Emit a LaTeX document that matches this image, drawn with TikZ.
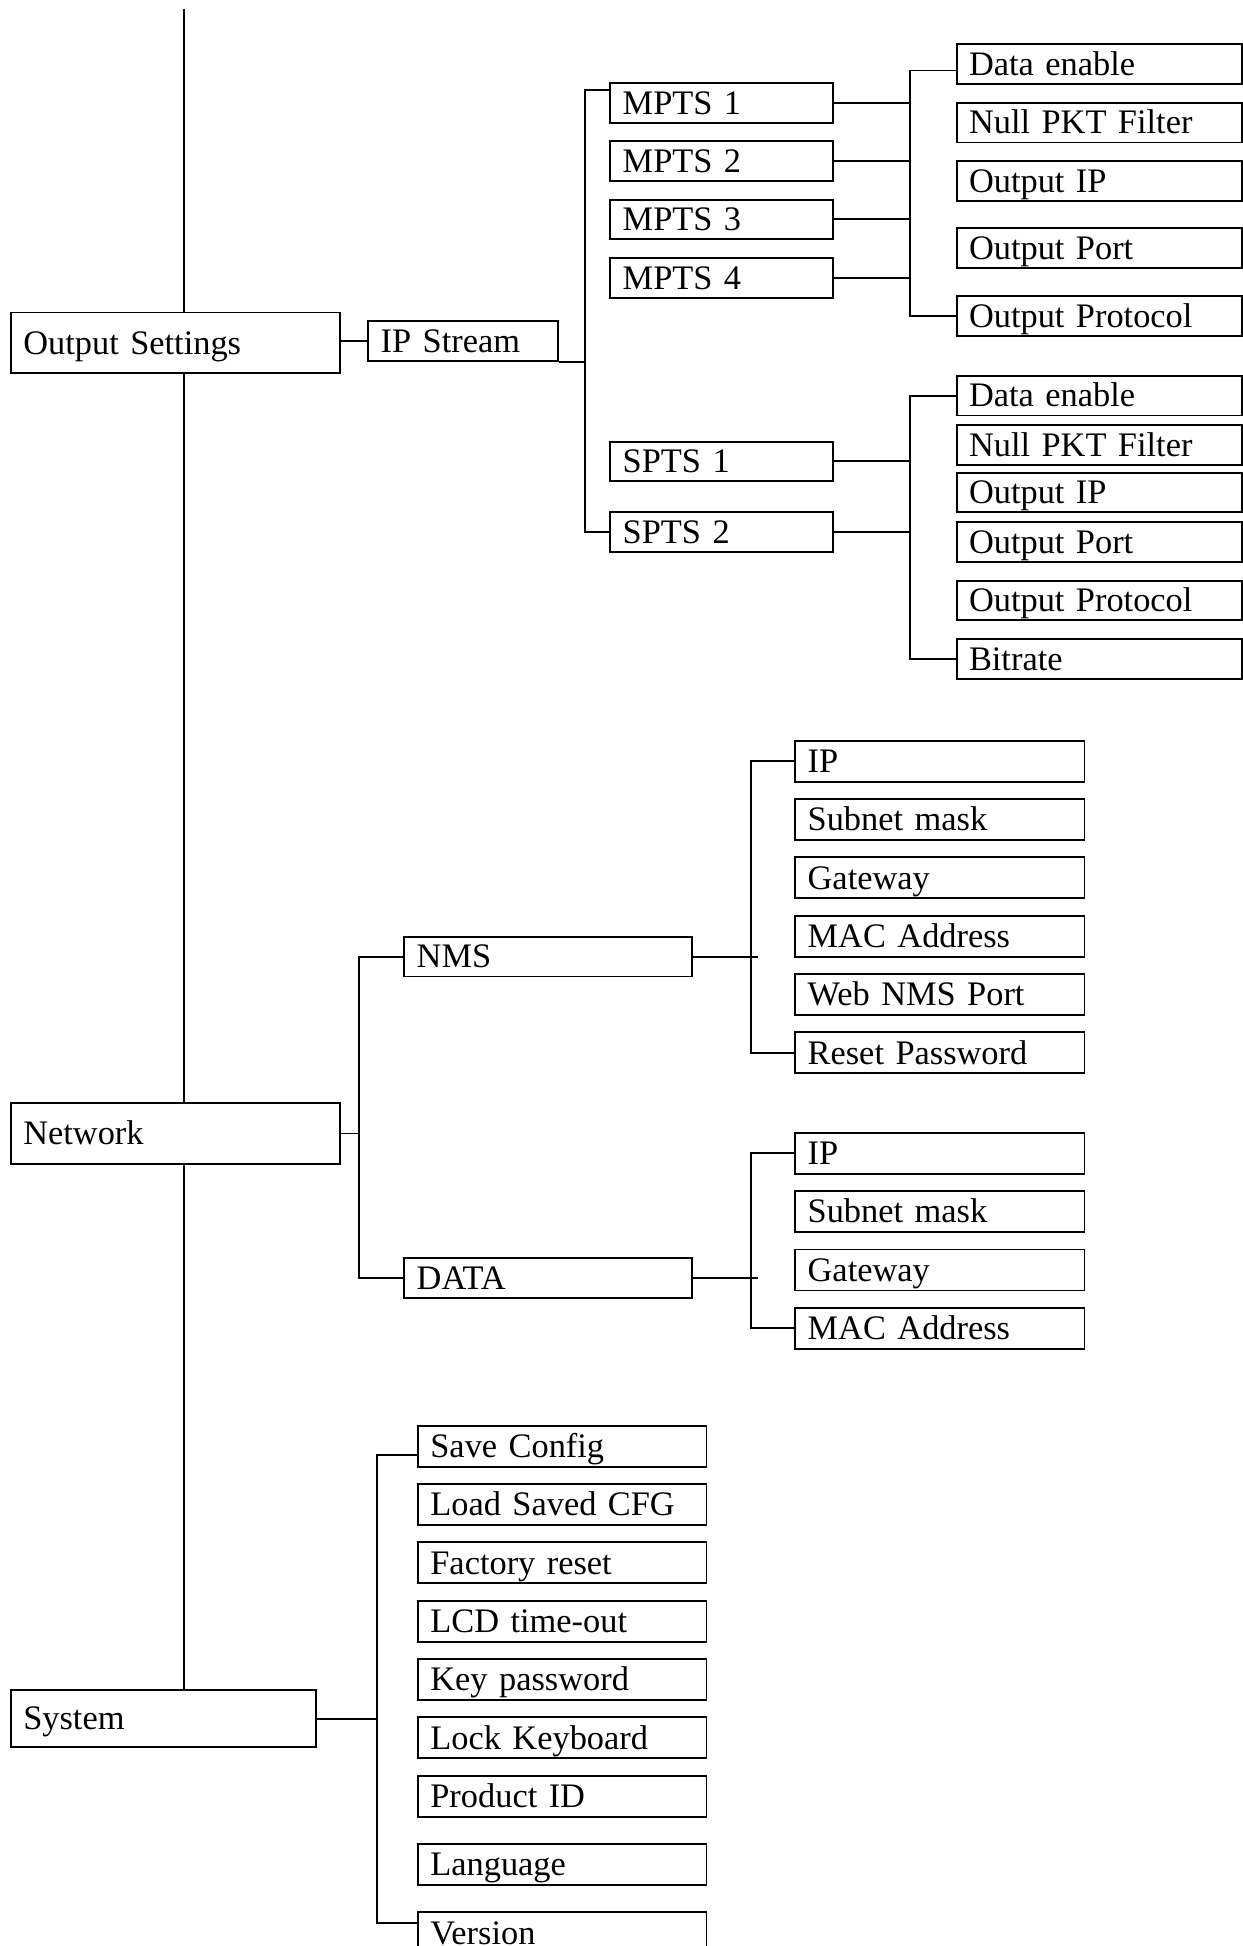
\documentclass[tikz,border=0pt]{standalone}
\usepackage{fontspec}
\setmainfont{Liberation Serif}

\begin{document}
\begin{tikzpicture}[x=0.025cm, y=-0.025cm, line width=1.1pt,
every node/.style = {draw, anchor=north west, align=left, inner xsep=0.25cm, inner ysep=0pt,
                     minimum height=0.8cm, text height=13pt, text depth=0pt,
                     font=\fontsize{19.7}{22}\selectfont},
menu/.style = {text width=#1}]
\useasboundingbox (0,0) rectangle (1001,1568);
% top level
\node[menu=6.125cm, minimum height=1.225cm] (output_settings) at (8,251) {Output Settings};
\node[menu=6.125cm, minimum height=1.225cm] (network) at (8,888) {Network};
\node[menu=5.64cm, minimum height=1.15cm] (system) at (8,1361) {System};
% output settings
\node[menu=3.325cm] (ip_stream) at (296,258) {IP Stream};
\foreach \n/\y in {1/66, 2/113, 3/160, 4/207}
  \node[menu=3.975cm] (mpts\n) at (491,\y) {MPTS \n};
\foreach \n/\y in {1/355, 2/412}
  \node[menu=3.975cm] (spts\n) at (491,\y) {SPTS \n};
\foreach \m/\y/\t in {de/35/Data enable, null/82/Null PKT Filter, ip/129/Output IP,
                      port/183/Output Port, proto/238/Output Protocol}
  \node[menu=5.25cm] (mpts_\m) at (770,\y) {\t};
\foreach \m/\y/\t in {de/302/Data enable, null/342/Null PKT Filter, ip/380/Output IP,
                      port/420/Output Port, proto/467/Output Protocol, rate/514/Bitrate}
  \node[menu=5.25cm] (spts_\m) at (770,\y) {\t};
% network
\node[menu=5.3cm] (nms) at (325,754) {NMS};
\node[menu=5.3cm] (data) at (325,1013) {DATA};
\foreach \m/\y/\t in {ip/596/IP, mask/643/Subnet mask, gw/690/Gateway, mac/737/MAC Address,
                      web/784/Web NMS Port, pwd/831/Reset Password}
  \node[menu=5.325cm, minimum height=0.825cm] (nms_\m) at (640,\y) {\t};
\foreach \m/\y/\t in {ip/912/IP, mask/959/Subnet mask, gw/1006/Gateway, mac/1053/MAC Address}
  \node[menu=5.325cm, minimum height=0.825cm] (data_\m) at (640,\y) {\t};
% system
\foreach \m/\y/\t in {save/1148/Save Config, load/1195/Load Saved CFG, reset/1242/Factory reset,
                      lcd/1289/LCD time-out, key/1336/Key password, lock/1383/Lock Keyboard,
                      id/1430/Product ID, lang/1485/Language, ver/1540/Version}
  \node[menu=5.31cm, minimum height=0.825cm] (sys_\m) at (336,\y) {\t};

\coordinate (trunk) at (148,7);
\coordinate (ts_bus) at (471,0);
\coordinate (mpts_bus) at (733,0);
\coordinate (net_bus) at (289,0);
\coordinate (nms_bus) at (605,0);
\coordinate (sys_bus) at (304,0);

\draw (trunk) -- (trunk |- output_settings.north);
\draw (trunk |- output_settings.south) -- (trunk |- network.north);
\draw (trunk |- network.south) -- (trunk |- system.north);

\draw (ip_stream.west -| output_settings.east) -- (ip_stream.west);
\draw (ip_stream.south east) -- (ip_stream.south east -| ts_bus);
\draw ([yshift=0.25cm]mpts1.west) -| (ts_bus |- spts2.west) -- (spts2.west);
\foreach \n in {1,...,4}
  \draw (mpts\n.east) -- (mpts\n.east -| mpts_bus);
\draw ([yshift=-0.125cm]mpts_de.west) -| (mpts_bus |- mpts_proto.west) -- (mpts_proto.west);
\foreach \n in {1,2}
  \draw (spts\n.east) -- (spts\n.east -| mpts_bus);
\draw (spts_de.west) -| (mpts_bus |- spts_rate.west) -- (spts_rate.west);

\draw (network.east) -- (network.east -| net_bus);
\draw (nms.west) -| (net_bus |- data.west) -- (data.west);
\draw (nms.east) -- ([xshift=0.15cm]nms.east -| nms_bus);
\draw (nms_ip.west) -| (nms_bus |- nms_pwd.west) -- (nms_pwd.west);
\draw (data.east) -- ([xshift=0.15cm]data.east -| nms_bus);
\draw (data_ip.west) -| (nms_bus |- data_mac.west) -- (data_mac.west);

\draw (system.east) -- (system.east -| sys_bus);
\draw ([yshift=-0.175cm]sys_save.west) -| ([yshift=0.2cm]sys_ver.west -| sys_bus) -- ([yshift=0.2cm]sys_ver.west);
\end{tikzpicture}
\end{document}
